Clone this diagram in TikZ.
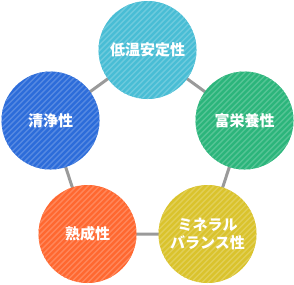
\documentclass[tikz,border=0pt]{standalone}
\usepackage{fontspec}
\setmainfont{Noto Sans CJK JP}
\definecolor{ccyan}{HTML}{48BDD5}
\definecolor{cblue}{HTML}{2C6CDA}
\definecolor{cgreen}{HTML}{2BB57B}
\definecolor{corange}{HTML}{FF6830}
\definecolor{cyellow}{HTML}{DAC32C}
\definecolor{clink}{HTML}{9A9A9A}
\tikzset{
  link/.style={draw=clink, line width=3pt},
  ball/.style={circle, minimum size=98pt, inner sep=0pt, text=white, font=\bfseries\fontsize{15}{18.5}\selectfont, align=center},
}
\newcommand{\stripedball}[4]{% name, position, colour, text
  \node[ball, fill=#3] (#1) at (#2) {};
  \begin{scope}
    \clip (#1.center) circle (49pt);
    \foreach \k in {-140,-134.34,...,140} {
      \draw[#3!80!white, line width=1.4pt] ([xshift=\k pt, yshift=-70pt]#1.center) -- ([xshift=\k pt+140pt, yshift=70pt]#1.center);
    }
  \end{scope}
  \node[ball] at (#1.center) {#4};
}
\begin{document}
\begin{tikzpicture}[x=1pt, y=-1pt]
\useasboundingbox (0,0) rectangle (294,284);
\coordinate (pt) at (147.5,50);
\coordinate (pl) at (50.5,120.5);
\coordinate (pr) at (244.5,120.5);
\coordinate (pbl) at (87.5,234);
\coordinate (pbr) at (207.5,234);
\draw[link] (pt) -- (pr) -- (pbr) -- (pbl) -- (pl) -- cycle;
\stripedball{t}{pt}{ccyan}{低温安定性}
\stripedball{r}{pr}{cgreen}{富栄養性}
\stripedball{br}{pbr}{cyellow}{ミネラル\\バランス性}
\stripedball{bl}{pbl}{corange}{熟成性}
\stripedball{l}{pl}{cblue}{清浄性}
\end{tikzpicture}
\end{document}
